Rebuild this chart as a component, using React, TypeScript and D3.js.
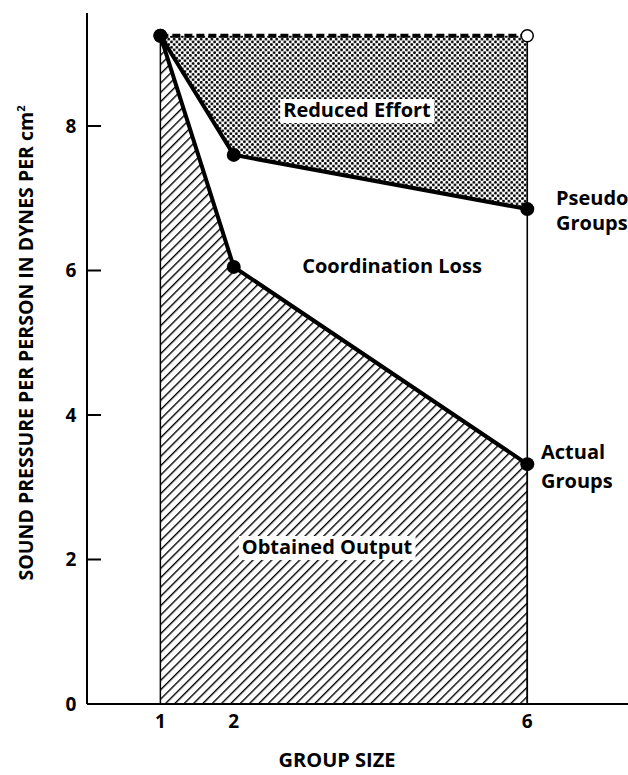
import * as d3 from "d3";
import { useEffect, useRef } from "react";

// group sizes and sound pressure per person
const groupSizes = [1, 2, 6];
const pseudoGroups = [9.25, 7.6, 6.85];
const actualGroups = [9.25, 6.05, 3.32];
const potential = 9.25;
const yTicks = [0, 2, 4, 6, 8];
const xTicks = [1, 2, 6];

function drawChart(container: HTMLElement) {
  const width = 628;
  const height = 775;
  const font = "'Open Sans', 'DejaVu Sans', sans-serif";

  const svg = d3.select(container)
    .append("svg")
    .attr("width", width)
    .attr("height", height)
    .style("display", "block")
    .style("background", "#fff");

  const x = d3.scaleLinear([0, 7.4], [87, 630]);
  const y = d3.scaleLinear([0, 8], [704, 126]);

  const defs = svg.append("defs");
  const hatch = defs.append("pattern")
    .attr("id", "hatch")
    .attr("patternUnits", "userSpaceOnUse")
    .attr("width", 6.6)
    .attr("height", 6.6)
    .attr("patternTransform", "rotate(45)");
  hatch.append("rect").attr("width", 6.6).attr("height", 6.6).attr("fill", "#fff");
  hatch.append("line")
    .attr("x1", 0).attr("y1", 0).attr("x2", 0).attr("y2", 6.6)
    .attr("stroke", "#000").attr("stroke-width", 2.8);

  const dots = defs.append("pattern")
    .attr("id", "dots")
    .attr("patternUnits", "userSpaceOnUse")
    .attr("width", 5.4)
    .attr("height", 5.4);
  dots.append("rect").attr("width", 5.4).attr("height", 5.4).attr("fill", "#fff");
  dots.append("circle").attr("cx", 1.35).attr("cy", 1.35).attr("r", 1.4).attr("fill", "#000");
  dots.append("circle").attr("cx", 4.05).attr("cy", 4.05).attr("r", 1.4).attr("fill", "#000");

  const pts = (vals: number[]) => groupSizes.map((g, i) => [x(g), y(vals[i])] as [number, number]);
  const line = d3.line();

  // obtained output (hatched)
  const obtained = [[x(1), y(0)], ...pts(actualGroups), [x(6), y(0)]] as [number, number][];
  svg.append("path")
    .attr("d", line(obtained) + "Z")
    .attr("fill", "url(#hatch)")
    .attr("stroke", "#000")
    .attr("stroke-width", 1.5);

  // reduced effort (dotted)
  const reduced = [[x(6), y(potential)], ...pts(pseudoGroups).reverse()] as [number, number][];
  svg.append("path")
    .attr("d", line(reduced) + "Z")
    .attr("fill", "url(#dots)");

  // vertical line at group size 6
  svg.append("line")
    .attr("x1", x(6)).attr("x2", x(6))
    .attr("y1", y(potential)).attr("y2", y(0))
    .attr("stroke", "#000").attr("stroke-width", 1.6);

  // dashed potential line
  svg.append("line")
    .attr("x1", x(1)).attr("x2", x(6))
    .attr("y1", y(potential)).attr("y2", y(potential))
    .attr("stroke", "#000").attr("stroke-width", 4)
    .attr("stroke-dasharray", "8 4");

  // curves
  for (const vals of [pseudoGroups, actualGroups]) {
    svg.append("path")
      .attr("d", line(pts(vals)))
      .attr("fill", "none")
      .attr("stroke", "#000")
      .attr("stroke-width", 4)
      .attr("stroke-linejoin", "round");
  }

  const allPts = [...pts(pseudoGroups), ...pts(actualGroups)];
  svg.append("g")
    .selectAll("circle")
    .data(allPts)
    .join("circle")
    .attr("cx", d => d[0])
    .attr("cy", d => d[1])
    .attr("r", 7)
    .attr("fill", "#000");

  svg.append("circle")
    .attr("cx", x(6)).attr("cy", y(potential))
    .attr("r", 6)
    .attr("fill", "#fff")
    .attr("stroke", "#000")
    .attr("stroke-width", 1.5);

  // axes
  svg.append("line")
    .attr("x1", x(0)).attr("x2", x(0))
    .attr("y1", 13).attr("y2", y(0))
    .attr("stroke", "#000").attr("stroke-width", 2);
  svg.append("line")
    .attr("x1", x(0)).attr("x2", width)
    .attr("y1", y(0)).attr("y2", y(0))
    .attr("stroke", "#000").attr("stroke-width", 2);

  svg.append("g")
    .selectAll("line")
    .data(yTicks.filter(d => d > 0))
    .join("line")
    .attr("x1", x(0)).attr("x2", x(0) + 14)
    .attr("y1", d => y(d)).attr("y2", d => y(d))
    .attr("stroke", "#000").attr("stroke-width", 2);

  svg.append("g")
    .selectAll("text")
    .data(yTicks)
    .join("text")
    .attr("x", 71)
    .attr("y", d => y(d))
    .attr("dy", "0.36em")
    .attr("text-anchor", "middle")
    .attr("font-family", font)
    .attr("font-weight", 700)
    .attr("font-size", 19)
    .text(d => d);

  svg.append("g")
    .selectAll("text")
    .data(xTicks)
    .join("text")
    .attr("x", d => x(d))
    .attr("y", 728)
    .attr("text-anchor", "middle")
    .attr("font-family", font)
    .attr("font-weight", 700)
    .attr("font-size", 19)
    .text(d => d);

  svg.append("text")
    .attr("x", 337)
    .attr("y", 767)
    .attr("text-anchor", "middle")
    .attr("font-family", font)
    .attr("font-weight", 700)
    .attr("font-size", 20)
    .text("GROUP SIZE");

  const yl = svg.append("text")
    .attr("transform", "translate(33,343) rotate(-90)")
    .attr("text-anchor", "middle")
    .attr("font-family", font)
    .attr("font-weight", 700)
    .attr("font-size", 19.5);
  yl.append("tspan").text("SOUND PRESSURE PER PERSON IN DYNES PER cm");
  yl.append("tspan").attr("dy", -8).attr("font-size", 11).text("2");

  // region labels with white backing
  const label = (tx: number, ty: number, s: string, pad: boolean) => {
    const g = svg.append("g");
    const t = g.append("text")
      .attr("x", tx).attr("y", ty)
      .attr("text-anchor", "middle")
      .attr("font-family", font)
      .attr("font-weight", 700)
      .attr("font-size", 20)
      .text(s);
    if (pad) {
      const b = (t.node() as SVGTextElement).getBBox();
      g.insert("rect", "text")
        .attr("x", b.x - 3).attr("y", b.y + 3)
        .attr("width", b.width + 6).attr("height", b.height - 3)
        .attr("fill", "#fff");
    }
  };
  label(357, 117, "Reduced Effort", true);
  label(392, 273, "Coordination Loss", false);
  label(327, 554, "Obtained Output", true);

  const side = (tx: number, ys: number[], lines: string[]) => {
    svg.append("g")
      .selectAll("text")
      .data(lines)
      .join("text")
      .attr("x", tx)
      .attr("y", (_, i) => ys[i])
      .attr("font-family", font)
      .attr("font-weight", 700)
      .attr("font-size", 20)
      .text(d => d);
  };
  side(556, [205, 230], ["Pseudo", "Groups"]);
  side(541, [459, 488], ["Actual", "Groups"]);
}

export default function App() {
  const domRef = useRef<HTMLDivElement>(null);
  useEffect(() => {
    if (domRef.current) {
      drawChart(domRef.current);
    }
    return () => {
      if (domRef.current) {
        d3.select(domRef.current).selectAll("svg").remove();
      }
    };
  }, [domRef]);
  return <div ref={domRef} style={{ position: "absolute", left: 0, top: 0 }}></div>;
}
